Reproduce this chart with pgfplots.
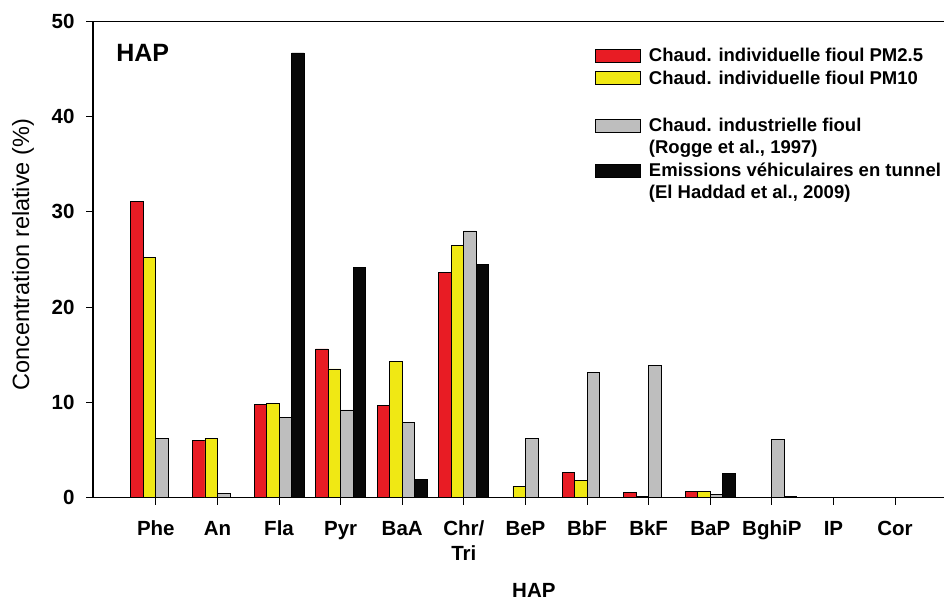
\documentclass[border=0pt]{standalone}
\usepackage{fontspec}
\setmainfont{Liberation Sans}
\usepackage{pgfplots}
\pgfplotsset{compat=1.18}
\definecolor{barred}{RGB}{232,28,36}
\definecolor{baryel}{RGB}{240,232,20}
\definecolor{bargrey}{RGB}{190,190,190}
\definecolor{barblack}{RGB}{8,8,8}
\pgfplotsset{
  mylegend/.style={legend image code/.code={\draw[##1,line width=0.8pt] (0pt,-6.5pt) rectangle (45pt,6.5pt);}},
}
\begin{document}
\begin{tikzpicture}
\useasboundingbox (0,0) rectangle (944pt,602pt);
\begin{axis}[
  at={(93pt,104.5pt)}, anchor=south west,
  scale only axis, width=854.4pt, height=476pt,
  xmin=-1.02, xmax=12.85, ymin=0, ymax=50,
  ybar, bar width=0.203,
  xtick={0,...,12},
  xticklabels={Phe,An,Fla,Pyr,BaA,{Chr/\\Tri},BeP,BbF,BkF,BaP,BghiP,IP,Cor},
  ytick={0,10,20,30,40,50},
  tick align=outside, xtick pos=bottom, ytick pos=left,
  major tick length=7pt,
  tick style={black, line width=1pt},
  axis line style={black, line width=1.2pt},
  /pgf/number format/assume math mode=true,
  ticklabel style={font=\fontsize{20.5}{25}\selectfont\bfseries},
  xticklabel style={align=center, yshift=-13pt},
  yticklabel style={xshift=-8pt},
  xlabel={HAP},
  xlabel style={font=\fontsize{20.5}{24}\selectfont\bfseries, at={(axis description cs:0.516,-0.211)}, anchor=base},
  ylabel={Concentration relative (\%)},
  ylabel style={font=\fontsize{23.5}{28}\selectfont, at={(axis description cs:-0.082,0.51)}, anchor=center},
  legend style={draw=none, fill=none, inner sep=0pt, row sep=7.5pt,
    at={(axis description cs:0.5875,0.9443)}, anchor=north west,
    font=\fontsize{18.5}{23}\selectfont\bfseries,
    nodes={inner sep=0pt},
    /tikz/column 1/.style={column sep=8pt}},
  legend cell align=left,
]
\addplot[fill=barred, draw=black, line width=0.8pt, bar shift=-0.3045, mylegend]
  coordinates {(0,31.1) (1,6.0) (2,9.8) (3,15.6) (4,9.7) (5,23.6) (7,2.6) (8,0.57) (9,0.6)};
\addlegendentry{Chaud. individuelle fioul PM2.5}
\addplot[fill=baryel, draw=black, line width=0.8pt, bar shift=-0.1015, mylegend]
  coordinates {(0,25.2) (1,6.25) (2,9.9) (3,13.5) (4,14.3) (5,26.5) (6,1.16) (7,1.8) (8,0.15) (9,0.6)};
\addlegendentry{Chaud. individuelle fioul PM10}
\addlegendimage{empty legend}
\addlegendentry{\strut}
\addplot[fill=bargrey, draw=black, line width=0.8pt, bar shift=0.1015, mylegend]
  coordinates {(0,6.2) (1,0.4) (2,8.4) (3,9.2) (4,7.9) (5,28.0) (6,6.25) (7,13.15) (8,13.9) (9,0.35) (10,6.1)};
\addlegendentry{Chaud. industrielle fioul}
\addlegendimage{empty legend}
\addlegendentry{(Rogge et al., 1997)}
\addplot[fill=barblack, draw=black, line width=0.8pt, bar shift=0.3045, mylegend]
  coordinates {(2,46.7) (3,24.2) (4,1.9) (5,24.5) (9,2.5) (10,0.1)};
\addlegendentry{Emissions véhiculaires en tunnel}
\addlegendimage{empty legend}
\addlegendentry{(El Haddad et al., 2009)}
\node[anchor=base west, font=\fontsize{25}{30}\selectfont\bfseries, inner sep=0pt] at (axis description cs:0.027,0.915) {HAP};
\end{axis}
\end{tikzpicture}
\end{document}
